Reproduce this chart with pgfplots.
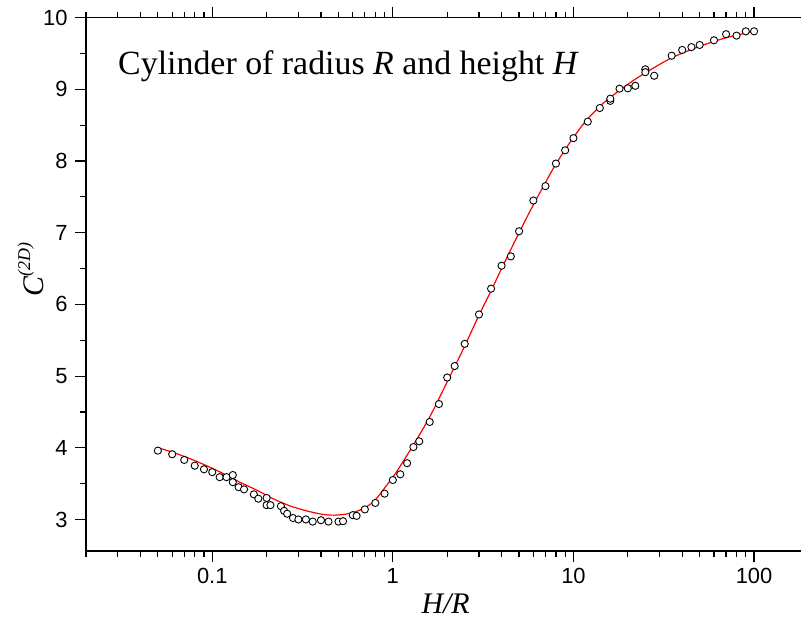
\documentclass[border=0pt]{standalone}
\usepackage{fontspec}
\setmainfont{Liberation Serif}
\newfontfamily\arialf{Liberation Sans}
\usepackage{pgfplots}
\usepackage{pgfplotstable}
\pgfplotsset{compat=1.18}

\pgfplotstableread{
x y
0.05 4.00
0.06 3.94
0.075 3.85
0.093 3.75
0.115 3.64
0.142 3.52
0.176 3.41
0.217 3.29
0.269 3.19
0.333 3.12
0.41 3.07
0.47 3.06
0.55 3.075
0.656 3.13
0.78 3.245
0.92 3.47
1.0 3.59
1.09 3.73
1.3 4.04
1.6 4.43
2.0 4.92
2.5 5.42
3.0 5.85
3.5 6.19
4.0 6.50
5.0 7.00
6.0 7.39
7.0 7.70
8.0 7.96
10 8.33
12 8.59
15 8.83
20 9.07
25 9.23
35 9.44
50 9.60
70 9.72
100 9.81
}\fitdata

\pgfplotstableread{
x y
0.05 3.96
0.06 3.91
0.07 3.83
0.08 3.75
0.09 3.70
0.10 3.66
0.11 3.59
0.12 3.59
0.13 3.62
0.13 3.52
0.14 3.45
0.15 3.42
0.17 3.35
0.18 3.29
0.20 3.30
0.20 3.20
0.21 3.20
0.24 3.185
0.25 3.12
0.26 3.08
0.28 3.02
0.30 3.00
0.33 3.00
0.36 2.97
0.40 2.99
0.44 2.97
0.50 2.97
0.53 2.976
0.60 3.06
0.63 3.05
0.70 3.14
0.80 3.23
0.90 3.36
1.0 3.55
1.1 3.63
1.2 3.785
1.3 4.01
1.4 4.09
1.6 4.36
1.8 4.61
2.0 4.98
2.2 5.14
2.5 5.45
3.0 5.86
3.5 6.22
4.0 6.54
4.5 6.67
5.0 7.02
6.0 7.45
7.0 7.65
8.0 7.965
9.0 8.15
10 8.32
12 8.55
14 8.74
16 8.84
16 8.87
18 9.01
20 9.015
22 9.05
25 9.28
25 9.24
28 9.19
35 9.47
40 9.55
45 9.59
50 9.62
60 9.685
70 9.77
80 9.75
90 9.81
100 9.81
}\simdata

\begin{document}
\begin{tikzpicture}
\begin{axis}[
  scale only axis, width=715bp, height=533.3bp,
  xmode=log, xmin=0.02, xmax=182, ymin=2.56, ymax=10,
  axis x line*=box, axis y line*=left,
  xtick={0.1,1,10,100}, xticklabels={0.1,1,10,100},
  minor xtick={0.02,0.03,0.04,0.05,0.06,0.07,0.08,0.09,0.2,0.3,0.4,0.5,0.6,0.7,0.8,0.9,2,3,4,5,6,7,8,9,20,30,40,50,60,70,80,90},
  xtick pos=both, xticklabel pos=left,
  ytick={3,4,5,6,7,8,9,10},
  minor ytick={3.5,4.5,5.5,6.5,7.5,8.5,9.5},
  ytick pos=left,
  tick align=outside,
  major tick length=11bp, minor tick length=6bp,
  axis line style={line width=1.6bp, black},
  every tick/.style={black, line width=1.2bp},
  tick label style={font=\arialf\fontsize{22}{26}\selectfont},
  yticklabel style={xshift=-4bp},
  xticklabel style={yshift=-3bp},
  /pgf/number format/assume math mode=true,
  xlabel={\fontsize{30}{36}\selectfont\textit{H/R}},
  xlabel style={at={(axis description cs:0.503,-0.118)}, anchor=base},
  ylabel={\fontsize{30}{36}\selectfont\textit{C}\raisebox{13bp}{\fontsize{18}{20}\selectfont\textit{(2D)}}},
  ylabel style={at={(axis description cs:-0.060,0.527)}, anchor=base, rotate=0},
]
\addplot[red, line width=1.2bp, smooth] table[x=x,y=y] {\fitdata};
\addplot[only marks, mark=*, mark size=3.6bp, mark options={draw=black, fill=white, line width=0.9bp}] table[x=x,y=y] {\simdata};
\node[anchor=base west, inner sep=0pt, font=\fontsize{34}{40}\selectfont] at (axis description cs:0.0448,0.8926) {Cylinder of radius \textit{R} and height \textit{H}};
\end{axis}
\pgfresetboundingbox
\path[use as bounding box] (-86bp,-79bp) rectangle (715bp,551bp);
\end{tikzpicture}
\end{document}
